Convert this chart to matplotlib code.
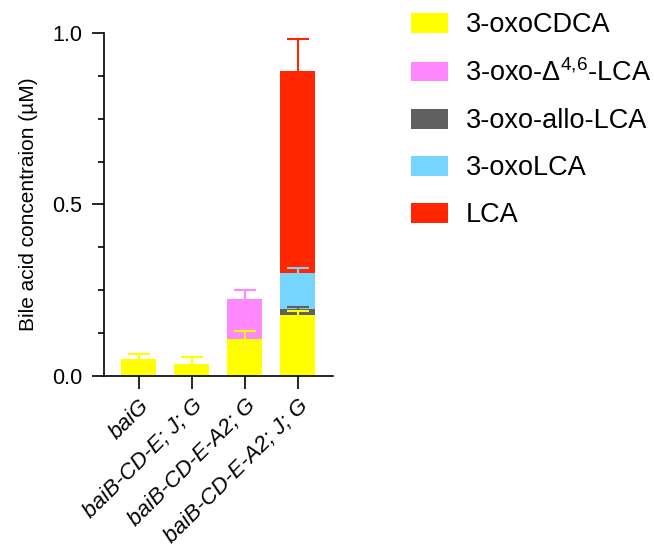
import numpy as np
import matplotlib.pyplot as plt
from matplotlib.patches import Patch

plt.rcParams['font.family'] = ['Liberation Sans', 'DejaVu Sans']
plt.rcParams['mathtext.fontset'] = 'custom'
plt.rcParams['mathtext.rm'] = 'Liberation Sans'
plt.rcParams['mathtext.it'] = 'Liberation Sans:italic'

strains = ['baiG', 'baiB-CD-E; J; G', 'baiB-CD-E-A2; G', 'baiB-CD-E-A2; J; G']
species = ['3-oxoCDCA', '3-oxo-Δ$^{\\mathrm{4{,}6}}$-LCA', '3-oxo-allo-LCA', '3-oxoLCA', 'LCA']
colors = ['#FFFF00', '#FF88FF', '#606060', '#77D4FF', '#FF2600']

# mean values per species (rows) and strain (columns), uM
means = np.array([
    [0.050, 0.033, 0.107, 0.178],
    [0.000, 0.000, 0.117, 0.000],
    [0.000, 0.000, 0.000, 0.016],
    [0.000, 0.000, 0.000, 0.105],
    [0.000, 0.000, 0.000, 0.591],
])
# upper error (SD)
errs = np.array([
    [0.014, 0.023, 0.024, 0.012],
    [0.000, 0.000, 0.025, 0.000],
    [0.000, 0.000, 0.000, 0.006],
    [0.000, 0.000, 0.000, 0.015],
    [0.000, 0.000, 0.000, 0.093],
])

fig = plt.figure(figsize=(6.54, 5.51), dpi=100)
ax = fig.add_axes([0.159, 0.318, 0.35, 0.622])

x = np.arange(len(strains))
bottom = np.zeros(len(strains))
for i in range(len(species)):
    ax.bar(x, means[i], 0.66, bottom=bottom, color=colors[i], zorder=2)
    top = bottom + means[i]
    mask = means[i] > 0
    eb = ax.errorbar(x[mask], top[mask], yerr=[np.zeros(mask.sum()), errs[i][mask]],
                     fmt='none', ecolor=colors[i], elinewidth=1.5, capsize=8,
                     capthick=1.5, zorder=3)
    eb[1][0].set_visible(False)  # hide lower cap
    bottom = top

ax.set_xlim(-0.66, 3.66)
ax.set_ylim(0, 1.0)
ax.set_yticks([0, 0.5, 1.0])
ax.set_yticklabels(['0.0', '0.5', '1.0'])
ax.set_yticks(np.arange(0, 1.01, 0.125), minor=True)
ax.set_xticks(x)
ax.set_xticklabels(strains, rotation=45, ha='right', rotation_mode='anchor',
                   fontstyle='italic', fontsize=16)
ax.tick_params(axis='y', which='major', length=8.5, width=1.2, labelsize=15.5, pad=7)
ax.tick_params(axis='y', which='minor', length=4, width=1.2)
ax.tick_params(axis='x', length=9, width=1.2, pad=5)
for s in ['top', 'right']:
    ax.spines[s].set_visible(False)
for s in ['left', 'bottom']:
    ax.spines[s].set_linewidth(1.2)
ax.set_ylabel('Bile acid concentraion (µM)', fontsize=15, labelpad=10)

handles = [Patch(facecolor=c, label=l) for c, l in zip(colors, species)]
fig.legend(handles=handles, loc='upper left', bbox_to_anchor=(0.628, 0.978),
           frameon=False, fontsize=19.5, handlelength=1.36, handleheight=0.74,
           labelspacing=0.78, handletextpad=0.66, borderpad=0, borderaxespad=0)

fig.savefig('out.png', dpi=100)
